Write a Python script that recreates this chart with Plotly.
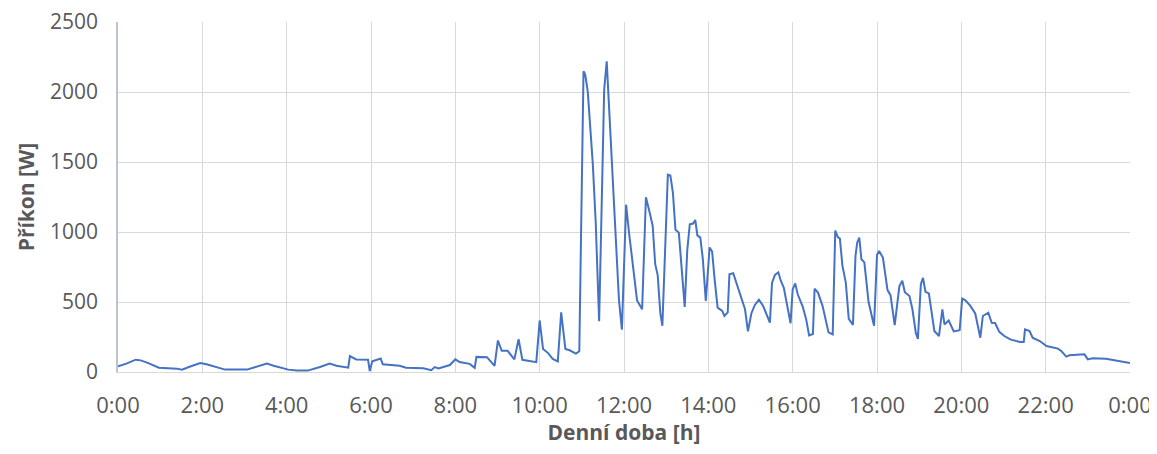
import plotly.graph_objects as go

# Time of day in hours
time_h = [
    0.00, 0.20, 0.42, 0.54, 0.69, 0.97, 1.40, 1.52, 1.68, 1.95, 2.10, 2.54, 3.06, 3.20, 3.53, 3.69,
    4.04, 4.24, 4.50, 4.79, 5.02, 5.18, 5.46, 5.50, 5.65, 5.93, 5.97, 6.03, 6.23, 6.28, 6.48, 6.68,
    6.83, 7.05, 7.24, 7.43, 7.51, 7.60, 7.80, 7.87, 8.00, 8.10, 8.34, 8.46, 8.50, 8.75, 8.93, 9.01,
    9.10, 9.24, 9.40, 9.50, 9.59, 9.92, 10.00, 10.08, 10.20, 10.31, 10.43, 10.51, 10.61, 10.71, 10.86,
    10.94, 11.04, 11.08, 11.14, 11.22, 11.26, 11.33, 11.41, 11.47, 11.53, 11.59, 11.66, 11.73, 11.80,
    11.88, 11.95, 12.05, 12.12, 12.21, 12.31, 12.43, 12.52, 12.60, 12.68, 12.74, 12.80, 12.86, 12.91,
    13.04, 13.10, 13.16, 13.22, 13.30, 13.36, 13.44, 13.50, 13.56, 13.64, 13.69, 13.74, 13.81, 13.87,
    13.94, 14.03, 14.09, 14.15, 14.22, 14.33, 14.38, 14.46, 14.50, 14.59, 14.69, 14.81, 14.87, 14.94,
    15.02, 15.10, 15.20, 15.30, 15.40, 15.46, 15.51, 15.58, 15.66, 15.72, 15.79, 15.95, 16.00, 16.06,
    16.12, 16.24, 16.32, 16.39, 16.48, 16.52, 16.60, 16.71, 16.85, 16.95, 17.01, 17.07, 17.12, 17.18,
    17.26, 17.33, 17.43, 17.49, 17.53, 17.58, 17.63, 17.70, 17.80, 17.87, 17.93, 18.00, 18.05, 18.14,
    18.25, 18.32, 18.42, 18.53, 18.60, 18.66, 18.72, 18.77, 18.84, 18.92, 18.97, 19.04, 19.09, 19.15,
    19.23, 19.36, 19.47, 19.55, 19.60, 19.70, 19.82, 19.96, 20.02, 20.09, 20.21, 20.33, 20.45, 20.51,
    20.64, 20.72, 20.80, 20.90, 21.02, 21.16, 21.39, 21.48, 21.51, 21.62, 21.69, 21.86, 22.02, 22.29,
    22.37, 22.49, 22.56, 22.92, 23.00, 23.11, 23.43, 23.66, 24.00,
]

# Power input in W
power_w = [
    40, 60, 88, 83, 67, 31, 24, 17, 36, 64, 55, 17, 17, 31, 60, 45,
    17, 10, 10, 36, 60, 45, 31, 114, 90, 88, 7, 76, 96, 55, 52, 45,
    31, 27, 26, 13, 35, 25, 42, 50, 90, 71, 58, 30, 108, 106, 44, 225,
    151, 151, 90, 234, 87, 70, 368, 165, 135, 93, 76, 426, 164, 155, 131,
    148, 2148, 2124, 2005, 1660, 1487, 1064, 362, 1183, 2017, 2219, 1826, 1386, 1040,
    517, 302, 1195, 993, 743, 511, 448, 1248, 1150, 1045, 770, 690, 424, 330,
    1410, 1404, 1280, 1017, 995, 770, 465, 870, 1055, 1060, 1086, 976, 960, 805,
    507, 890, 860, 660, 460, 436, 400, 426, 698, 705, 615, 500, 448, 290,
    418, 477, 517, 471, 390, 352, 636, 694, 712, 650, 602, 348, 590, 633,
    555, 465, 376, 262, 272, 595, 567, 471, 283, 269, 1010, 963, 953, 760,
    638, 380, 337, 829, 924, 960, 805, 783, 500, 400, 331, 835, 864, 817,
    585, 549, 335, 612, 652, 570, 555, 543, 448, 281, 236, 628, 672, 573,
    561, 293, 257, 448, 340, 368, 290, 299, 524, 514, 474, 418, 245, 400,
    424, 352, 350, 287, 257, 233, 214, 214, 305, 293, 245, 221, 186, 167,
    150, 110, 119, 126, 90, 98, 95, 83, 65,
]

x_tick_vals = [0, 2, 4, 6, 8, 10, 12, 14, 16, 18, 20, 22, 24]
x_tick_text = ["0:00", "2:00", "4:00", "6:00", "8:00", "10:00", "12:00",
               "14:00", "16:00", "18:00", "20:00", "22:00", "0:00"]
y_tick_vals = [0, 500, 1000, 1500, 2000, 2500]

x_title = "Denní doba [h]"
y_title = "Příkon [W]"

fig = go.Figure()
fig.add_trace(go.Scatter(
    x=time_h, y=power_w, mode="lines",
    line=dict(color="#4472C4", width=2),
    showlegend=False, cliponaxis=False,
))

font_family = "Open Sans"
tick_color = "#595959"

# The page body has an 8 px margin, so the figure is offset by it
fig.update_layout(
    width=1149, height=438,
    margin=dict(l=110, r=27, t=14, b=74, autoexpand=False),
    paper_bgcolor="white", plot_bgcolor="white",
    font=dict(family=font_family, color=tick_color),
)
fig.update_xaxes(
    range=[0, 24], tickvals=x_tick_vals, ticktext=x_tick_text,
    showgrid=True, gridcolor="#d9d9d9", gridwidth=1,
    showline=True, linecolor="#d9d9d9", linewidth=1,
    zeroline=False, ticks="", ticklabelstandoff=14, automargin=False,
    ticklabeloverflow="allow",
    tickfont=dict(size=22, color=tick_color, family=font_family),
    title=dict(text="<b>" + x_title + "</b>", standoff=14,
               font=dict(size=21, color=tick_color, family=font_family)),
)
fig.update_yaxes(
    range=[0, 2500], tickvals=y_tick_vals,
    showgrid=True, gridcolor="#d9d9d9", gridwidth=1,
    showline=True, linecolor="#bcc3d1", linewidth=1.5,
    zeroline=False, ticks="", ticklabelstandoff=14, automargin=False,
    ticklabeloverflow="allow",
    tickfont=dict(size=21, color=tick_color, family=font_family),
    title=dict(text="<b>" + y_title + "</b>", standoff=10,
               font=dict(size=21, color=tick_color, family=font_family)),
)

fig.write_html("out.html")
